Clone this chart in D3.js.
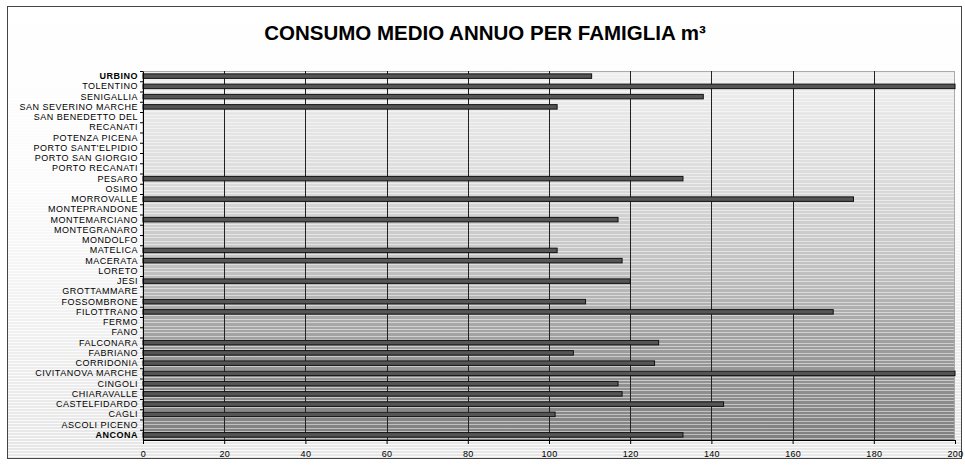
<!DOCTYPE html>
<html><head><meta charset="utf-8">
<script src="https://cdn.jsdelivr.net/npm/d3@7"></script>
<style>
html,body{margin:0;padding:0;background:#fff;}
svg{display:block;}
</style></head>
<body>
<script>
const title = "CONSUMO MEDIO ANNUO PER FAMIGLIA m³";
const categories = ["URBINO","TOLENTINO","SENIGALLIA","SAN SEVERINO MARCHE","SAN BENEDETTO DEL","RECANATI","POTENZA PICENA","PORTO SANT'ELPIDIO","PORTO SAN GIORGIO","PORTO RECANATI","PESARO","OSIMO","MORROVALLE","MONTEPRANDONE","MONTEMARCIANO","MONTEGRANARO","MONDOLFO","MATELICA","MACERATA","LORETO","JESI","GROTTAMMARE","FOSSOMBRONE","FILOTTRANO","FERMO","FANO","FALCONARA","FABRIANO","CORRIDONIA","CIVITANOVA MARCHE","CINGOLI","CHIARAVALLE","CASTELFIDARDO","CAGLI","ASCOLI PICENO","ANCONA"];
const values = [110.5,200,138,102,null,null,null,null,null,null,133,null,175,null,117,null,null,102,118,null,120,null,109,170,null,null,127,106,126,200,117,118,143,101.5,null,133];
const boldCats = ["URBINO","ANCONA"];
const xTicks = [0,20,40,60,80,100,120,140,160,180,200];

const W=965,H=466;
const m={left:143,right:10,top:71,bottom:26};
const svg=d3.select("body").append("svg").attr("width",W).attr("height",H);
const defs=svg.append("defs");

const og=defs.append("linearGradient").attr("id","outerG").attr("x1",0).attr("y1",0).attr("x2",0).attr("y2",1);
og.append("stop").attr("offset","0%").attr("stop-color","#ffffff");
og.append("stop").attr("offset","40%").attr("stop-color","#fbfbfb");
og.append("stop").attr("offset","100%").attr("stop-color","#e6e6e6");

const pg=defs.append("linearGradient").attr("id","plotG").attr("x1",0).attr("y1",0).attr("x2",0).attr("y2",1);
[["0%","#efefef"],["30%","#dbdbdb"],["55%","#bfbfbf"],["75%","#9c9c9c"],["100%","#7f7f7f"]].forEach(s=>pg.append("stop").attr("offset",s[0]).attr("stop-color",s[1]));

// outer chart area
svg.append("rect").attr("x",7.5).attr("y",6.5).attr("width",954).attr("height",452)
  .attr("fill","url(#outerG)").attr("stroke","#444").attr("stroke-width",1);
const stripesOuter=svg.append("g");
for(let y=60;y<457;y+=3){
  stripesOuter.append("line").attr("x1",8).attr("x2",961).attr("y1",y+0.5).attr("y2",y+0.5)
    .attr("stroke","#fff").attr("stroke-width",1).attr("opacity",0.8);
}

const x=d3.scaleLinear().domain([0,200]).range([m.left,W-m.right]);
const y=d3.scaleBand().domain(categories).range([m.top,H-m.bottom]).padding(0);

const pw=x(200)-x(0), ph=(H-m.bottom)-m.top;
svg.append("rect").attr("x",x(0)).attr("y",m.top).attr("width",pw).attr("height",ph).attr("fill","url(#plotG)");
const stripes=svg.append("g");
for(let yy=m.top+3;yy<H-m.bottom;yy+=3.4){
  stripes.append("line").attr("x1",x(0)).attr("x2",x(200)).attr("y1",Math.round(yy)+0.5).attr("y2",Math.round(yy)+0.5)
    .attr("stroke","#fff").attr("stroke-width",1).attr("opacity",0.5);
}
svg.append("rect").attr("x",x(0)).attr("y",m.top+0.5).attr("width",pw-0.5).attr("height",ph).attr("fill","none").attr("stroke","#aaa");

// grid
svg.append("g").selectAll("line").data(xTicks.filter(d=>d>0&&d<200)).join("line")
  .attr("x1",d=>Math.round(x(d))+0.5).attr("x2",d=>Math.round(x(d))+0.5)
  .attr("y1",m.top).attr("y2",H-m.bottom).attr("stroke","#222").attr("stroke-width",1);

// bars
const bh=4.5;
svg.append("g").selectAll("rect").data(categories.map((c,i)=>({c,v:values[i]})).filter(d=>d.v!=null)).join("rect")
  .attr("x",x(0)).attr("y",d=>y(d.c)+y.bandwidth()/2-bh/2)
  .attr("width",d=>x(d.v)-x(0)).attr("height",bh)
  .attr("fill","#555").attr("stroke","#111").attr("stroke-width",1);

// axes
const ya=svg.append("g").attr("transform",`translate(${x(0)},0)`)
  .call(d3.axisLeft(y).tickSize(0).tickPadding(5));
ya.select(".domain").attr("stroke","#000");
ya.selectAll("text").attr("font-family","'Liberation Sans',Arial,sans-serif").attr("font-size","9px")
  .attr("letter-spacing","0.5px")
  .attr("fill","#000").attr("font-weight",d=>boldCats.includes(d)?"bold":"normal");
// left small ticks at band boundaries
svg.append("g").selectAll("line").data(categories).join("line")
  .attr("x1",x(0)-3).attr("x2",x(0)).attr("y1",d=>y(d)+0.5).attr("y2",d=>y(d)+0.5).attr("stroke","#000");

const xa=svg.append("g").attr("transform",`translate(0,${H-m.bottom})`)
  .call(d3.axisBottom(x).tickValues(xTicks).tickSize(4).tickPadding(7));
xa.select(".domain").attr("stroke","#000");
xa.selectAll("line").attr("stroke","#000");
xa.selectAll("text").attr("font-family","'Liberation Sans',Arial,sans-serif").attr("font-size","9px")
  .attr("letter-spacing","0.3px").attr("fill","#000");

svg.append("text").attr("x",485).attr("y",40).attr("text-anchor","middle")
  .attr("font-family","'Liberation Sans',Arial,sans-serif").attr("font-weight","bold").attr("font-size","20.5px")
  .text(title);
</script>
</body></html>
